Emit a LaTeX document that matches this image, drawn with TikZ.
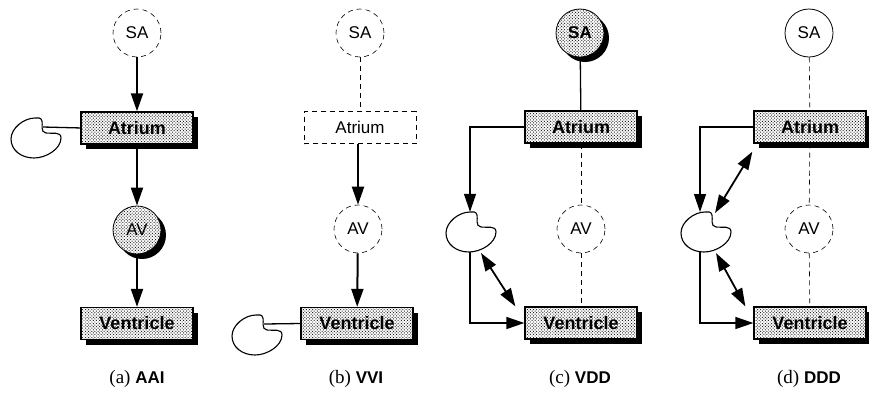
\documentclass[tikz,border=0pt]{standalone}
\usepackage{fontspec}
\setmainfont{Liberation Serif}
\setsansfont{Liberation Sans}
\usetikzlibrary{arrows.meta,patterns.meta,positioning,shadows}

\tikzset{
	chamber/.style={rectangle,draw,line width=1.3pt,inner sep=0pt,minimum width=112pt,minimum height=32pt,font=\sffamily\bfseries\fontsize{18}{20}\selectfont},
	lit/.style={drop shadow={shadow xshift=5pt,shadow yshift=-5pt,fill=black,opacity=1},preaction={fill=white},pattern={Dots[distance=2.2pt,radius=.7pt,angle=45]},pattern color=black!85},
	idle/.style={dash pattern=on 5pt off 4pt,line width=.6pt,fill=white},
	ball/.style={circle,draw,line width=.8pt,inner sep=0pt,minimum size=48pt,fill=white,font=\sffamily\fontsize{17}{20}\selectfont},
	paced/.style={line width=2pt},
	wire/.style={line width=1.3pt},
	link/.style={line width=1.8pt},
	faint/.style={line width=.6pt,dash pattern=on 5pt off 4pt},
	caption/.style={font=\fontsize{19}{22}\selectfont,inner sep=0pt},
}

% ventricle-like blob: name, x, y
\newcommand{\blob}[3]{%
	\node[minimum width=50pt,minimum height=40pt,inner sep=0pt] (#1) at (#2,#3) {};
	\draw[line width=1.1pt,fill=white,shift={(#2,#3)}] (7,-17) .. controls (8,-13) and (5,-6) .. (11,-5)
		.. controls (17,-4) and (26,-7) .. (26,0) .. controls (26,11) and (11,20) .. (-1,20)
		.. controls (-14,20) and (-24,12) .. (-24,1) .. controls (-24,-10) and (-11,-20) .. (0,-20)
		.. controls (3,-20) and (6,-21) .. (7,-17);
	\begin{scope}[shift={(#2,#3)}]
		\coordinate (#1n) at (8,-11);
		\coordinate (#1t) at (-5,-20);
		\coordinate (#1b) at (-5,20);
		\coordinate (#1u) at (10,-19);
		\coordinate (#1d) at (11,21);
	\end{scope}%
}

\begin{document}
\begin{tikzpicture}[x=1pt,y=-1pt,>={Triangle[length=18pt,width=12pt]},node distance=54pt]
	\useasboundingbox (0,0) rectangle (869,392);

	% (a)
	\node[ball,idle] (sa1) at (137,33) {SA};
	\node[chamber,lit] [below= of sa1] (at1) {Atrium};
	\node[ball,lit] (av1) at (137,230) {AV};
	\node[chamber,lit] (ve1) at (137,323.5) {Ventricle};
	\blob{h1}{35}{138}
	\path[->,paced]
	(sa1) edge (at1)
	(at1) edge (av1)
	(av1) edge (ve1);
	\draw[wire] (at1.west) -- (h1n);
	\node[caption] (c1) at (137,379) {(a) \sffamily\bfseries\fontsize{17}{20}\selectfont AAI};

	% (b)
	\node[ball,idle] (sa2) at (360,33) {SA};
	\node[chamber,idle,font=\sffamily\fontsize{17}{20}\selectfont] [below= of sa2] (at2) {Atrium};
	\node[ball,idle] (av2) at (358,229) {AV};
	\node[chamber,lit] (ve2) at (357,323.5) {Ventricle};
	\blob{h2}{256}{335}
	\draw[faint] (sa2) -- (at2);
	\path[->,paced]
	(at2.south -| av2) edge (av2)
	(av2) edge (ve2);
	\draw[wire] (ve2.west) -- (h2n);
	\node[caption] (c2) at (356,379) {(b) \sffamily\bfseries\fontsize{17}{20}\selectfont VVI};

	% (c)
	\node[ball,lit] (sa3) at (580,33) {\bfseries SA};
	\node[chamber,lit] (at3) at (581,127) {Atrium};
	\node[ball,idle] (av3) at (581,229) {AV};
	\node[chamber,lit] (ve3) at (581,323) {Ventricle};
	\blob{h3}{470}{232}
	\draw[wire] (sa3) -- (at3);
	\draw[faint] (at3) -- (av3);
	\draw[faint] (av3) -- (ve3);
	\draw[wire,->] (at3.west) -| (h3.north);
	\draw[wire,->] (h3.south) |- (ve3.west);
	\draw[link,<->] (h3d) -- ([xshift=-9pt]ve3.north west);
	\node[caption] (c3) at (580,379) {(c) \sffamily\bfseries\fontsize{17}{20}\selectfont VDD};

	% (d)
	\node[ball] (sa4) at (809,33) {SA};
	\node[chamber,lit] (at4) at (810,127) {Atrium};
	\node[ball,idle] (av4) at (809,229) {AV};
	\node[chamber,lit] (ve4) at (810,323) {Ventricle};
	\blob{h4}{705}{232}
	\draw[faint] (sa4) -- (at4);
	\draw[faint] (at4) -- (av4);
	\draw[faint] (av4) -- (ve4);
	\draw[wire,->] (at4.west) -| (h4t);
	\draw[wire,->] (h4b) |- (ve4.west);
	\draw[link,<->] (h4u) -- ([xshift=-1pt,yshift=-8pt]at4.south west);
	\draw[link,<->] (h4d) -- ([xshift=-8pt]ve4.north west);
	\node[caption] (c4) at (809,379) {(d) \sffamily\bfseries\fontsize{17}{20}\selectfont DDD};
\end{tikzpicture}
\end{document}
